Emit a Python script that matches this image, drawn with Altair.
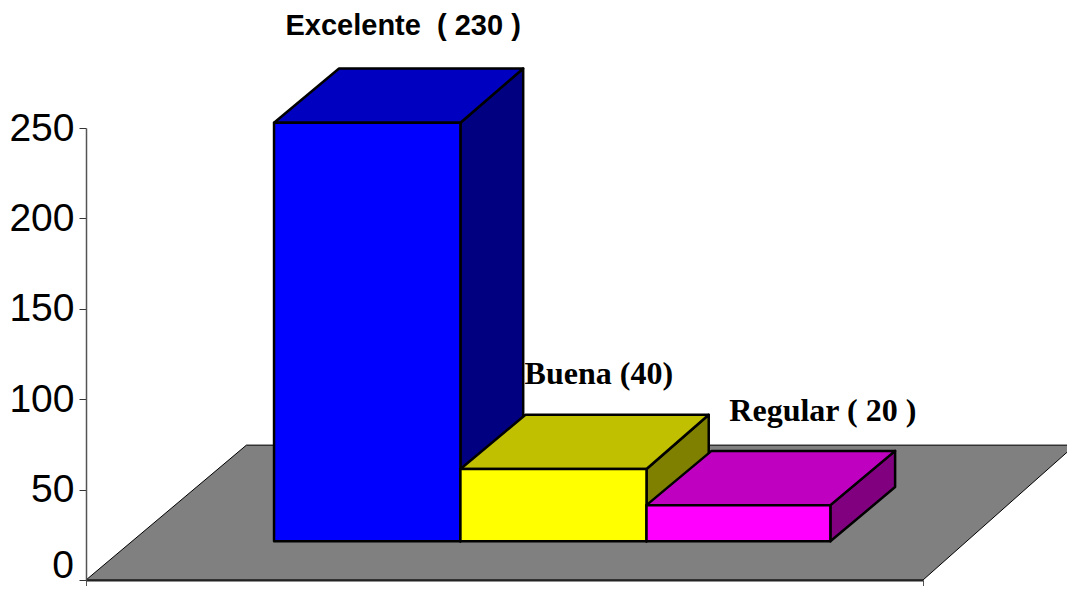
import altair as alt
import pandas as pd

# Values
categories = ["Excelente", "Buena", "Regular"]
values = [231.5, 40, 20]
bar_base = 21.4
bar_edges = [0.674, 1.342, 2.009, 2.668]   # in category-slot units of the x scale
depth_left = 0.233
depth_right = [0.225, 0.223, 0.232]
depth_y = 30.0
floor_depth_y = 74.6
floor_back_left = 0.575
floor_right = 3.0
floor_back_right = 3.545
front_colors = ["#0000FF", "#FFFF00", "#FF00FF"]
top_colors = ["#0000C0", "#C0C000", "#C000C0"]
side_colors = ["#000080", "#808000", "#800080"]
floor_color = "#808080"
label_texts = ["Excelente \u00a0( 230 )", "Buena (40)", "Regular ( 20 )"]
label_x = [0.715, 1.572, 2.306]
label_y = [306.5, 114, 93.5]
label_fonts = ["Liberation Sans", "Liberation Serif", "Liberation Serif"]
label_sizes = [29, 32, 32]
y_ticks = [0, 50, 100, 150, 200, 250]
zero_label_x = [-0.043]
zero_label_y = [7.7]
zero_label = ["0"]

x_scale = alt.Scale(domain=[0, 3], nice=False, zero=False)
y_scale = alt.Scale(domain=[0, 250], nice=False, zero=False)
x_axis = alt.Axis(
    values=[0, 3], labels=False, tickSize=8, tickColor="#555555", grid=False,
    domainColor="#222222", domainWidth=2, zindex=1, title=None,
)
y_axis = alt.Axis(
    values=y_ticks, tickSize=7, tickColor="#333333", domainColor="#555555", domainWidth=1.5,
    grid=False, labelFont="Liberation Sans", labelFontSize=39, labelColor="black",
    labelPadding=5, zindex=1, title=None,
    labelExpr="datum.value == 0 ? '' : datum.label",
)


def face(xs, lows, highs, color, width):
    df = pd.DataFrame({"x": xs, "low": lows, "high": highs})
    return (
        alt.Chart(df)
        .mark_area(fill=color, stroke="black", strokeWidth=width, strokeJoin="round", opacity=1)
        .encode(
            x=alt.X("x:Q", scale=x_scale, axis=x_axis),
            y=alt.Y("high:Q", scale=y_scale, axis=y_axis),
            y2="low:Q",
        )
    )


layers = []

# Floor
layers.append(
    face(
        [0, floor_back_left, floor_right, floor_back_right],
        [0, 0, 0, floor_depth_y],
        [0, floor_depth_y, floor_depth_y, floor_depth_y],
        floor_color,
        1,
    )
)

# Bars, back faces first, left to right
for i in range(len(categories)):
    x0, x1 = bar_edges[i], bar_edges[i + 1]
    top = bar_base + values[i]
    layers.append(
        face(
            [x1, x1 + depth_right[i]],
            [bar_base, bar_base + depth_y],
            [top, top + depth_y],
            side_colors[i],
            2.5,
        )
    )
    layers.append(
        face(
            [x0, x0 + depth_left, x1, x1 + depth_right[i]],
            [top, top, top, top + depth_y],
            [top, top + depth_y, top + depth_y, top + depth_y],
            top_colors[i],
            2.5,
        )
    )
    layers.append(face([x0, x1], [bar_base, bar_base], [top, top], front_colors[i], 2.5))

# Labels
for i in range(len(categories)):
    df = pd.DataFrame({"x": [label_x[i]], "y": [label_y[i]], "t": [label_texts[i]]})
    layers.append(
        alt.Chart(df)
        .mark_text(
            font=label_fonts[i], fontSize=label_sizes[i], fontWeight="bold",
            color="black", align="left", baseline="middle",
        )
        .encode(
            x=alt.X("x:Q", scale=x_scale, axis=x_axis),
            y=alt.Y("y:Q", scale=y_scale, axis=y_axis),
            text="t:N",
        )
    )

# The zero tick label sits slightly above its tick so that it stays inside the page
zero_df = pd.DataFrame({"x": zero_label_x, "y": zero_label_y, "t": zero_label})
layers.append(
    alt.Chart(zero_df)
    .mark_text(font="Liberation Sans", fontSize=39, color="black", align="right", baseline="middle")
    .encode(
        x=alt.X("x:Q", scale=x_scale, axis=x_axis),
        y=alt.Y("y:Q", scale=y_scale, axis=y_axis),
        text="t:N",
    )
)

chart = (
    alt.layer(*layers)
    .properties(
        width=837,
        height=452,
        autosize=alt.AutoSizeParams(type="none"),
        padding={"left": 78, "top": 120, "right": 144, "bottom": 6},
    )
    .configure_view(stroke=None)
)

chart.save("out.html", embed_options={"renderer": "svg", "actions": False})
